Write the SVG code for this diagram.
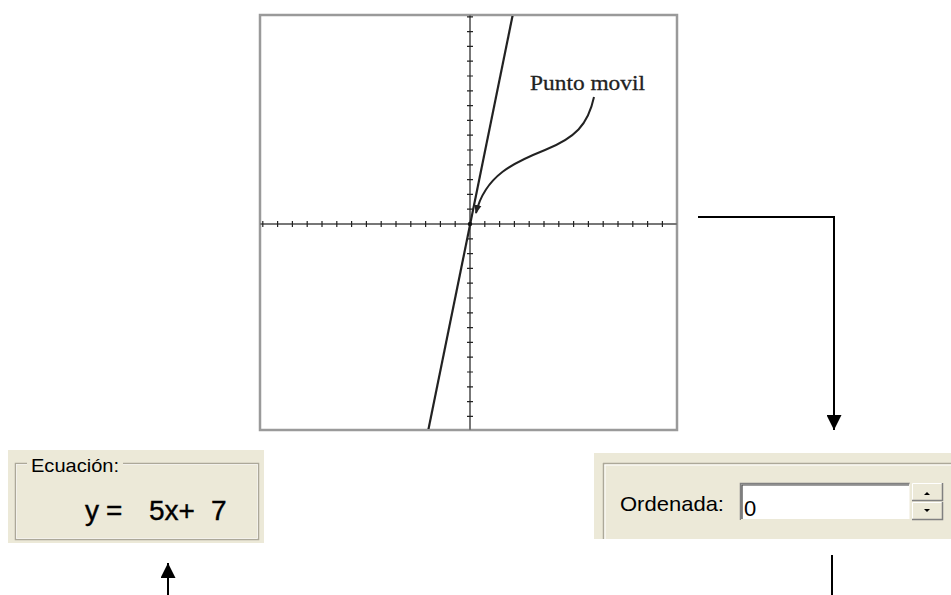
<svg xmlns="http://www.w3.org/2000/svg" width="951" height="595" viewBox="0 0 951 595">
<style>
.conn{fill:none;stroke:#000;stroke-width:2}
.ui{font-family:"Liberation Sans",Arial,sans-serif;fill:#000}
.tick{stroke:#222;stroke-width:1.2;fill:none}
.axis{stroke:#777;stroke-width:2;fill:none}
</style>
<defs>
<marker id="ah" viewBox="0 0 10 10" refX="10" refY="5" markerWidth="15" markerHeight="15" markerUnits="userSpaceOnUse" orient="auto"><path d="M0,0L10,5L0,10z" fill="#000"/></marker>
<marker id="ahs" viewBox="0 0 10 10" refX="9" refY="5" markerWidth="9" markerHeight="9" markerUnits="userSpaceOnUse" orient="auto"><path d="M0,1L10,5L0,9z" fill="#222"/></marker>
<clipPath id="gc"><rect x="261" y="16" width="415" height="413"/></clipPath>
</defs>
<rect width="951" height="595" fill="#fff"/>

<g id="graph">
<rect x="260" y="15" width="417" height="415" fill="#fff" stroke="#9a9a9a" stroke-width="2.5"/>
<path class="axis" d="M260 224H677M470 15V430"/>
<path class="tick" d="M262.8 221v6M277.6 221v6M292.4 221v6M307.2 221v6M322 221v6M336.8 221v6M351.6 221v6M366.4 221v6M381.2 221v6M396 221v6M410.8 221v6M425.6 221v6M440.4 221v6M455.2 221v6M484.8 221v6M499.6 221v6M514.4 221v6M529.2 221v6M544 221v6M558.8 221v6M573.6 221v6M588.4 221v6M603.2 221v6M618 221v6M632.8 221v6M647.6 221v6M662.4 221v6"/>
<path class="tick" d="M467 16.8h6M467 31.6h6M467 46.4h6M467 61.2h6M467 76h6M467 90.8h6M467 105.6h6M467 120.4h6M467 135.2h6M467 150h6M467 164.8h6M467 179.6h6M467 194.4h6M467 209.2h6M467 238.8h6M467 253.6h6M467 268.4h6M467 283.2h6M467 298h6M467 312.8h6M467 327.6h6M467 342.4h6M467 357.2h6M467 372h6M467 386.8h6M467 401.6h6M467 416.4h6"/>
<g clip-path="url(#gc)">
<line x1="428.3" y1="430" x2="512.7" y2="15" stroke="#222" stroke-width="2.2"/>
</g>
<circle cx="470" cy="224" r="2.2" fill="#111"/>
<path d="M594 97C588 125 575 138 545 150C515 162 485 175 476 213" fill="none" stroke="#222" stroke-width="2" marker-end="url(#ahs)"/>
<text x="530" y="90" font-family="'Liberation Serif','Times New Roman',serif" font-size="22" fill="#222" stroke="#222" stroke-width="0.3" textLength="115" lengthAdjust="spacingAndGlyphs">Punto movil</text>
</g>

<g id="ecuacion">
<rect x="8" y="450" width="256" height="93" fill="#ece9d8"/>
<rect x="15.5" y="463.5" width="243" height="76" fill="none" stroke="#aca899" stroke-width="1.5"/>
<rect x="16.5" y="464.5" width="241" height="74" fill="none" stroke="#fff" stroke-width="0.8" opacity="0.8"/>
<rect x="27" y="455" width="96" height="16" fill="#ece9d8"/>
<text class="ui" x="31" y="472" font-size="19" textLength="88" lengthAdjust="spacingAndGlyphs">Ecuación:</text>
<text class="ui" y="520" font-size="28" stroke="#000" stroke-width="0.4"><tspan x="85">y</tspan><tspan x="106">=</tspan><tspan x="149">5x+</tspan><tspan x="211">7</tspan></text>
</g>

<g id="ordenada">
<rect x="594" y="453" width="357" height="86" fill="#ece9d8"/>
<path d="M603 463.5H951" stroke="#aca899" stroke-width="1.5" fill="none"/>
<path d="M604 465H951" stroke="#fff" stroke-width="1" fill="none"/>
<path d="M603.5 463V539" stroke="#aca899" stroke-width="1.5" fill="none"/>
<path d="M605 465V539" stroke="#fff" stroke-width="1" fill="none"/>
<text class="ui" x="620" y="511" font-size="21" textLength="104" lengthAdjust="spacingAndGlyphs">Ordenada:</text>
<rect x="740" y="483" width="170" height="37" fill="#fff"/>
<path d="M740.5 520V483.5H910" stroke="#808080" stroke-width="1.5" fill="none"/>
<path d="M742 519V485H909" stroke="#404040" stroke-width="1.2" fill="none"/>
<path d="M741 519.5H910V483" stroke="#ece9d8" stroke-width="1" fill="none"/>
<text class="ui" x="744" y="516" font-size="22">0</text>
<rect x="912" y="483" width="31" height="18" fill="#ece9d8"/>
<path d="M912.5 501V483.5H943" stroke="#fff" stroke-width="1" fill="none"/>
<path d="M912 500.5H942.5V483" stroke="#808080" stroke-width="1.5" fill="none"/>
<path d="M924 495h6l-3-3z" fill="#000"/>
<rect x="912" y="502" width="31" height="18" fill="#ece9d8"/>
<path d="M912.5 520V502.5H943" stroke="#fff" stroke-width="1" fill="none"/>
<path d="M912 519.5H942.5V502" stroke="#808080" stroke-width="1.5" fill="none"/>
<path d="M924 509h6l-3 3z" fill="#000"/>
</g>

<g id="connectors">
<path class="conn" d="M698 217H834V430" marker-end="url(#ah)"/>
<path class="conn" d="M168 595V563" marker-end="url(#ah)"/>
<path class="conn" d="M832 555V595"/>
</g>
</svg>
